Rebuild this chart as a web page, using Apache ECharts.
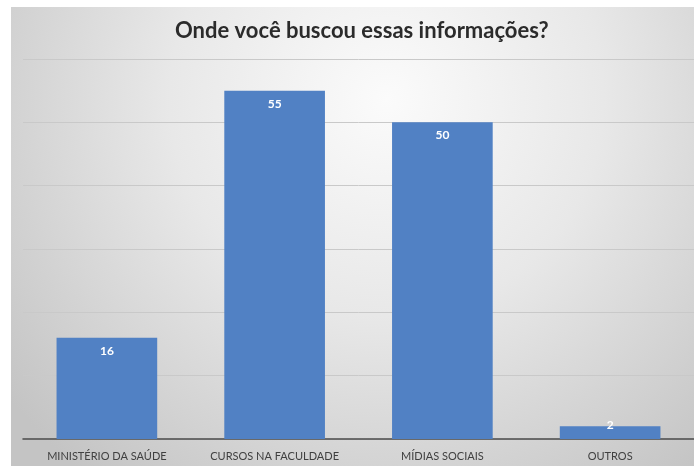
<!DOCTYPE html>
<html>
<head>
<meta charset="utf-8">
<script src="https://cdn.jsdelivr.net/npm/echarts@6/dist/echarts.min.js"></script>
<style>
html,body{margin:0;padding:0;background:#fff;}
#chart{width:694px;height:466px;}
</style>
</head>
<body>
<div id="chart"></div>
<script>
const titleText = 'Onde você buscou essas informações?';
const categories = ['MINISTÉRIO DA SAÚDE', 'CURSOS NA FACULDADE', 'MÍDIAS SOCIAIS', 'OUTROS'];
const values = [16, 55, 50, 2];
const yTicks = [0, 10, 20, 30, 40, 50, 60];

const chart = echarts.init(document.getElementById('chart'), null, {renderer: 'canvas'});
const FONT = 'Lato, "Open Sans", sans-serif';

const seriesData = values.map(function (v) {
  if (v < 5) {
    return {value: v, label: {distance: -7}};
  }
  return v;
});

chart.setOption({
  animation: false,
  graphic: [{
    type: 'rect',
    z: -10,
    silent: true,
    shape: {x: 11, y: 7, width: 683, height: 459},
    style: {
      fill: new echarts.graphic.RadialGradient(0.55, 0.2, 1.05, [
        {offset: 0, color: '#fbfbfb'},
        {offset: 0.45, color: '#e8e8e8'},
        {offset: 1, color: '#c4c4c4'}
      ])
    }
  }],
  title: {
    text: titleText,
    left: 170,
    top: 15,
    textStyle: {
      fontFamily: FONT,
      fontSize: 22,
      fontWeight: 'bold',
      color: '#2b2b2b'
    }
  },
  grid: {left: 23, right: 0, top: 59, bottom: 27, containLabel: false},
  xAxis: {
    type: 'category',
    data: categories,
    axisLine: {show: true, lineStyle: {color: '#4a4a4a', width: 1.5}},
    axisTick: {show: false},
    axisLabel: {
      fontFamily: FONT,
      fontSize: 11,
      color: '#404040',
      margin: 12,
      interval: 0
    }
  },
  yAxis: {
    type: 'value',
    min: yTicks[0],
    max: yTicks[yTicks.length - 1],
    interval: 10,
    axisLine: {show: false},
    axisTick: {show: false},
    axisLabel: {show: false},
    splitLine: {show: true, lineStyle: {color: '#c9c9c9', width: 1}}
  },
  series: [{
    type: 'bar',
    data: seriesData,
    barWidth: '60%',
    itemStyle: {color: '#5181c4'},
    label: {
      show: true,
      position: 'insideTop',
      distance: 7,
      color: '#ffffff',
      fontFamily: FONT,
      fontWeight: 'bold',
      fontSize: 12
    }
  }]
});
</script>
</body>
</html>
